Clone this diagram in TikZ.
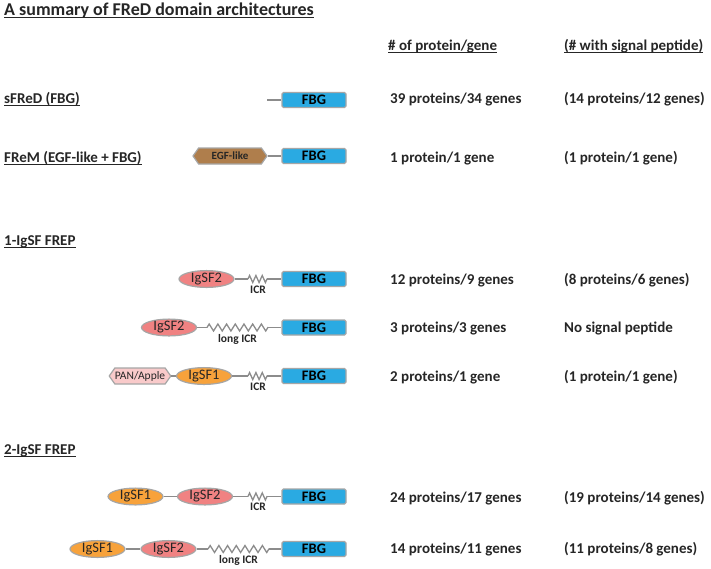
\documentclass[tikz,border=0pt]{standalone}
\usepackage{fontspec}
\setmainfont{Carlito}
\usetikzlibrary{shapes.geometric,shapes.symbols,decorations.pathmorphing}
\definecolor{txt}{HTML}{262626}
\definecolor{fbgc}{HTML}{2AAAE2}
\definecolor{bord}{HTML}{A6A6A6}
\definecolor{igone}{HTML}{F7A23B}
\definecolor{igtwo}{HTML}{F08282}
\definecolor{egfc}{HTML}{AF7E4C}
\definecolor{panc}{HTML}{F9CACA}
\definecolor{lnc}{HTML}{8C8C8C}
\begin{document}
\begin{tikzpicture}[x=1pt,y=-1pt,
  lbl/.style={anchor=base west, inner sep=0, font=\fontsize{15}{15}\selectfont\bfseries, text=txt},
  ttl/.style={anchor=base west, inner sep=0, font=\fontsize{18}{18}\selectfont\bfseries, text=txt},
  uline/.style={draw=txt, line width=1.3pt},
  fbg/.style={draw=bord, line width=1.2pt, fill=fbgc, rounded corners=1.5pt, minimum width=64pt, minimum height=15pt, inner sep=0, font=\fontsize{14.5}{14.5}\selectfont\bfseries, text=black},
  ig/.style={ellipse, draw=bord, line width=1.2pt, minimum width=55pt, minimum height=16pt, inner sep=0, font=\fontsize{14.5}{14.5}\selectfont, text=txt},
  igA/.style={ig, fill=igone},
  igB/.style={ig, fill=igtwo},
  hexa/.style={signal, signal to=east and west, signal pointer angle=110, draw=bord, line width=1.2pt, minimum height=16pt, inner sep=0, text=txt},
  conn/.style={draw=lnc, line width=1.3pt},
  zz/.style={draw=lnc, line width=1.3pt, decorate, decoration={zigzag, amplitude=3.5pt, segment length=#1}},
  icr/.style={inner sep=0, font=\fontsize{11.5}{11.5}\selectfont\bfseries, text=txt}
]
\useasboundingbox[fill=white] (0,0) rectangle (711,568);

% titles and headers
\node[ttl] (title) at (4,15) {A summary of FReD domain architectures};
\draw[uline, line width=1.6pt] ([yshift=-2.5pt]title.base west) -- ([yshift=-2.5pt]title.base east);
\node[lbl] (h1) at (388,50) {\# of protein/gene};
\draw[uline] ([yshift=-2.8pt]h1.base west) -- ([yshift=-2.8pt]h1.base east);
\node[lbl] (h2) at (564,50) {(\# with signal peptide)};
\draw[uline] ([yshift=-2.8pt]h2.base west) -- ([yshift=-2.8pt]h2.base east);

\node[lbl] (g1) at (4,103) {sFReD (FBG)};
\draw[uline] ([yshift=-2.8pt]g1.base west) -- ([yshift=-2.8pt]g1.base east);
\node[lbl] (g2) at (4,162) {FReM (EGF-like + FBG)};
\draw[uline] ([yshift=-2.8pt]g2.base west) -- ([yshift=-2.8pt]g2.base east);
\node[lbl] (g3) at (4,245) {1-IgSF FREP};
\draw[uline] ([yshift=-2.8pt]g3.base west) -- ([yshift=-2.8pt]g3.base east);
\node[lbl] (g4) at (4,454) {2-IgSF FREP};
\draw[uline] ([yshift=-2.8pt]g4.base west) -- ([yshift=-2.8pt]g4.base east);

% counts
\node[lbl] (c1a) at (390,103) {39 proteins/34 genes};
\node[lbl] (c1b) at (564,103) {(14 proteins/12 genes)};
\node[lbl] (c2a) at (390,162) {1 protein/1 gene};
\node[lbl] (c2b) at (564,162) {(1 protein/1 gene)};
\node[lbl] (c3a) at (390,284) {12 proteins/9 genes};
\node[lbl] (c3b) at (564,284) {(8 proteins/6 genes)};
\node[lbl] (c4a) at (390,332) {3 proteins/3 genes};
\node[lbl] (c4b) at (564,332) {No signal peptide};
\node[lbl] (c5a) at (390,381) {2 proteins/1 gene};
\node[lbl] (c5b) at (564,381) {(1 protein/1 gene)};
\node[lbl] (c6a) at (390,502) {24 proteins/17 genes};
\node[lbl] (c6b) at (564,502) {(19 proteins/14 genes)};
\node[lbl] (c7a) at (390,553) {14 proteins/11 genes};
\node[lbl] (c7b) at (564,553) {(11 proteins/8 genes)};

% row 1: sFReD
\node[fbg] (f1) at (314,100) {FBG};
\coordinate (s1) at (267,100);
\draw[conn] (s1) -- (f1.west);

% row 2: FReM
\node[fbg] (f2) at (314,156) {FBG};
\node[hexa, fill=egfc, minimum width=74pt, font=\fontsize{11}{11}\selectfont\bfseries] (e2) at (230,156) {EGF-like};
\draw[conn] (e2.east) -- (f2.west);

% row 3
\node[fbg] (f3) at (314,279) {FBG};
\node[igB] (b3) at (206.5,279) {IgSF2};
\coordinate (z3a) at (248,279);
\coordinate (z3b) at (267,279);
\draw[conn] (b3.east) -- (z3a);
\draw[zz=6.33pt] (z3a) -- (z3b);
\draw[conn] (z3b) -- (f3.west);
\node[icr] (i3) at (258,289.5) {ICR};

% row 4
\node[fbg] (f4) at (314,327.5) {FBG};
\node[igB] (b4) at (169,327.5) {IgSF2};
\coordinate (z4a) at (207,327.5);
\coordinate (z4b) at (268,327.5);
\draw[conn] (b4.east) -- (z4a);
\draw[zz=8.7pt] (z4a) -- (z4b);
\draw[conn] (z4b) -- (f4.west);
\node[icr] (i4) at (237.5,339) {long ICR};

% row 5
\node[fbg] (f5) at (314,376) {FBG};
\node[igA] (a5) at (204,376) {IgSF1};
\node[hexa, fill=panc, minimum width=60pt, font=\fontsize{11.5}{11.5}\selectfont] (p5) at (140,376) {PAN/Apple};
\coordinate (z5a) at (248,376);
\coordinate (z5b) at (267,376);
\draw[conn] (p5.east) -- (a5.west);
\draw[conn] (a5.east) -- (z5a);
\draw[zz=6.33pt] (z5a) -- (z5b);
\draw[conn] (z5b) -- (f5.west);
\node[icr] (i5) at (258,386.5) {ICR};

% row 6
\node[fbg] (f6) at (314,496.5) {FBG};
\node[igA] (a6) at (135.5,496.5) {IgSF1};
\node[igB] (b6) at (205,496.5) {IgSF2};
\coordinate (z6a) at (248,496.5);
\coordinate (z6b) at (267,496.5);
\draw[conn] (a6.east) -- (b6.west);
\draw[conn] (b6.east) -- (z6a);
\draw[zz=6.33pt] (z6a) -- (z6b);
\draw[conn] (z6b) -- (f6.west);
\node[icr] (i6) at (258,507) {ICR};

% row 7
\node[fbg] (f7) at (314,549) {FBG};
\node[igA] (a7) at (97.5,549) {IgSF1};
\node[igB] (b7) at (168.5,549) {IgSF2};
\coordinate (z7a) at (208,549);
\coordinate (z7b) at (269,549);
\draw[conn] (a7.east) -- (b7.west);
\draw[conn] (b7.east) -- (z7a);
\draw[zz=8.7pt] (z7a) -- (z7b);
\draw[conn] (z7b) -- (f7.west);
\node[icr] (i7) at (238.5,560.5) {long ICR};
\end{tikzpicture}
\end{document}
